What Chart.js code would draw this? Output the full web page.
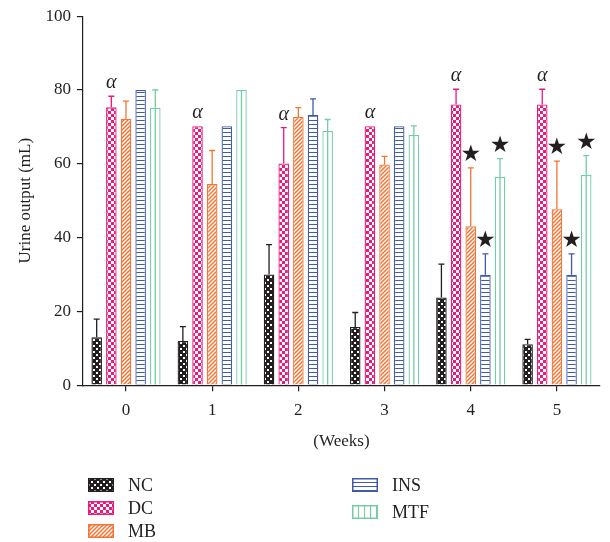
<!DOCTYPE html>
<html lang="en">
<head>
<meta charset="UTF-8">
<title>Urine output</title>
<style>
  html, body { margin: 0; padding: 0; background: #fff; }
  #wrap { position: relative; width: 610px; height: 542px; }
  #myChart { position: absolute; left: 0; top: 0; }
  .item { position: absolute; height: 22px; display: flex; align-items: center;
          font-family: "Liberation Serif", serif; font-size: 18px; color: #231f20; }
  .item canvas { margin-right: 14px; }
</style>
<script src="https://cdn.jsdelivr.net/npm/chart.js@4.4.0/dist/chart.umd.min.js"></script>
</head>
<body>
<div id="wrap">
  <canvas id="myChart" width="610" height="542"></canvas>
  <div id="legend"></div>
</div>
<script>
// weeks on the x axis
var weeks = ['0', '1', '2', '3', '4', '5'];
var groupNames = ['NC', 'DC', 'MB', 'INS', 'MTF'];
var yTicks = [0, 20, 40, 60, 80, 100];

// means and (upper) error, mL
var ncValues  = [13, 12, 30, 15.8, 23.8, 11.1];
var ncErr     = [4.9, 3.9, 8.1, 3.9, 9, 1.3];
var dcValues  = [75.3, 70.2, 60.1, 70.2, 76.1, 76.1];
var dcErr     = [3, 0, 9.7, 0, 4.1, 4.1];
var mbValues  = [72.2, 54.5, 72.7, 59.8, 43.1, 47.7];
var mbErr     = [4.8, 9.1, 2.5, 2.2, 15.8, 13];
var insValues = [80, 70.2, 73.2, 70.2, 29.9, 29.9];
var insErr    = [0, 0, 4.4, 0, 5.7, 5.7];
var mtfValues = [75.2, 80, 68.9, 67.8, 56.5, 57];
var mtfErr    = [4.8, 0, 3.1, 2.5, 4.9, 5.2];

// significance marks
var ncMarks  = ['', '', '', '', '', ''];
var dcMarks  = ['α', 'α', 'α', 'α', 'α', 'α'];
var mbMarks  = ['', '', '', '', '★', '★'];
var insMarks = ['', '', '', '', '★', '★'];
var mtfMarks = ['', '', '', '', '★', '★'];

var INK = '#231f20';
var colors = { NC: INK, DC: '#ea1a7c', MB: '#f37433', INS: '#3f5ba9', MTF: '#72cea5' };
var serif = '"Liberation Serif", "DejaVu Serif", serif';

function makePattern(kind) {
  var c = document.createElement('canvas');
  var g = c.getContext('2d');
  if (kind == 'NC') {
    c.width = 6; c.height = 6;
    g.fillStyle = INK; g.fillRect(0, 0, 6, 6);
    g.fillStyle = '#fff'; g.fillRect(0, 0, 2, 2); g.fillRect(3, 3, 2, 2);
  } else if (kind == 'DC') {
    c.width = 6; c.height = 6;
    g.fillStyle = colors.DC; g.fillRect(0, 0, 6, 6);
    g.fillStyle = '#fff'; g.fillRect(0, 0, 3, 3); g.fillRect(3, 3, 3, 3);
  } else if (kind == 'MB') {
    c.width = 4; c.height = 4;
    g.fillStyle = '#fff'; g.fillRect(0, 0, 4, 4);
    g.strokeStyle = colors.MB; g.lineWidth = 1.5;
    g.beginPath();
    g.moveTo(-1, 5); g.lineTo(5, -1);
    g.moveTo(-1, 1); g.lineTo(1, -1);
    g.moveTo(3, 5); g.lineTo(5, 3);
    g.stroke();
  } else if (kind == 'INS') {
    c.width = 4; c.height = 4;
    g.fillStyle = '#fff'; g.fillRect(0, 0, 4, 4);
    g.fillStyle = colors.INS; g.fillRect(0, 0, 4, 1);
  } else {
    c.width = 6; c.height = 6;
    g.fillStyle = '#fff'; g.fillRect(0, 0, 6, 6);
    g.fillStyle = colors.MTF; g.fillRect(0, 0, 1, 6);
  }
  return g.createPattern(c, 'repeat');
}

var values = [ncValues, dcValues, mbValues, insValues, mtfValues];
var errors = [ncErr, dcErr, mbErr, insErr, mtfErr];
var marks  = [ncMarks, dcMarks, mbMarks, insMarks, mtfMarks];

var datasets = groupNames.map(function (name, i) {
  return {
    label: name,
    data: values[i],
    errors: errors[i],
    marks: marks[i],
    backgroundColor: name == 'MTF' ? '#fff' : makePattern(name),
    borderColor: colors[name],
    borderWidth: 1.3,
    barPercentage: 0.72,
    categoryPercentage: 0.85
  };
});

// error bars, MTF centre line and the alpha / star marks
var extrasPlugin = {
  id: 'extras',
  afterDatasetsDraw: function (chart) {
    var ctx = chart.ctx;
    var yScale = chart.scales.y;
    chart.data.datasets.forEach(function (ds, i) {
      var meta = chart.getDatasetMeta(i);
      meta.data.forEach(function (bar, j) {
        ctx.save();
        ctx.strokeStyle = ds.borderColor;
        ctx.lineWidth = 1.3;
        if (ds.label == 'MTF') {
          ctx.beginPath();
          ctx.moveTo(bar.x, bar.y);
          ctx.lineTo(bar.x, bar.base);
          ctx.stroke();
        }
        var top = bar.y;
        var sd = ds.errors[j];
        if (sd > 0) {
          top = yScale.getPixelForValue(ds.data[j] + sd);
          ctx.beginPath();
          ctx.moveTo(bar.x, bar.y);
          ctx.lineTo(bar.x, top);
          ctx.moveTo(bar.x - 3, top);
          ctx.lineTo(bar.x + 3, top);
          ctx.stroke();
        }
        var m = ds.marks[j];
        if (m) {
          ctx.fillStyle = INK;
          ctx.textAlign = 'center';
          ctx.textBaseline = 'alphabetic';
          if (m == 'α') {
            ctx.font = 'italic 20px ' + serif;
            ctx.fillText(m, bar.x, top - 8);
          } else {
            ctx.font = '23px "DejaVu Sans", sans-serif';
            ctx.fillText(m, bar.x, top - 7);
          }
        }
        ctx.restore();
      });
    });
  }
};

var axisFont = { family: serif, size: 17 };

new Chart(document.getElementById('myChart'), {
  type: 'bar',
  data: { labels: weeks, datasets: datasets },
  plugins: [extrasPlugin],
  options: {
    responsive: false,
    animation: false,
    layout: { padding: { top: 2, right: 10, bottom: 90, left: 15 } },
    plugins: { legend: { display: false }, tooltip: { enabled: false } },
    scales: {
      x: {
        grid: { display: true, drawOnChartArea: false, drawTicks: true, tickLength: 6,
                offset: false, color: INK, lineWidth: 1.2 },
        border: { display: true, color: INK, width: 1.2 },
        ticks: { color: INK, font: axisFont, padding: 9 },
        title: { display: true, text: '(Weeks)', color: INK, font: axisFont, padding: { top: 2, bottom: 0 } }
      },
      y: {
        min: 0, max: 100,
        afterBuildTicks: function (axis) {
          axis.ticks = yTicks.map(function (v) { return { value: v }; });
        },
        grid: { display: true, drawOnChartArea: false, drawTicks: true, tickLength: 6,
                color: INK, lineWidth: 1.2 },
        border: { display: true, color: INK, width: 1.2 },
        ticks: { color: INK, font: axisFont, padding: 6 },
        title: { display: true, text: 'Urine output (mL)', color: INK, font: axisFont, padding: { top: 0, bottom: 4 } }
      }
    }
  }
});

// legend in two columns under the plot
var legendSlots = [[88, 474], [88, 497], [88, 520], [352, 474], [352, 501]];
var legend = document.getElementById('legend');
groupNames.forEach(function (name, i) {
  var item = document.createElement('div');
  item.className = 'item';
  item.style.left = legendSlots[i][0] + 'px';
  item.style.top = legendSlots[i][1] + 'px';
  var sw = document.createElement('canvas');
  sw.width = 26; sw.height = 14;
  var g = sw.getContext('2d');
  g.fillStyle = makePattern(name);
  g.fillRect(0, 0, 26, 14);
  g.strokeStyle = colors[name];
  g.lineWidth = 1.5;
  g.strokeRect(0.75, 0.75, 24.5, 12.5);
  item.appendChild(sw);
  var t = document.createElement('span');
  t.textContent = name;
  item.appendChild(t);
  legend.appendChild(item);
});
</script>
</body>
</html>
